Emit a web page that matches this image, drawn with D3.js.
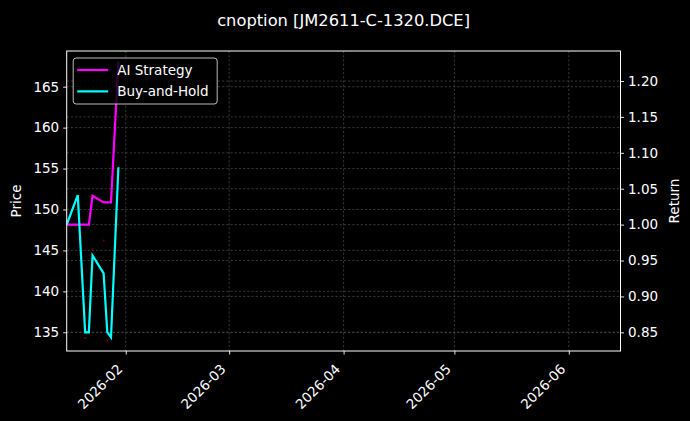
<!DOCTYPE html>
<html>
<head>
<meta charset="utf-8">
<script src="https://cdn.jsdelivr.net/npm/d3@7"></script>
<style>
  html, body { margin: 0; padding: 0; background: #000; }
  svg { display: block; font-family: "DejaVu Sans", sans-serif; }
</style>
</head>
<body>
<svg id="chart" width="690" height="421"></svg>
<script>
// Trading dates
const dates = ["2026-01-16", "2026-01-19", "2026-01-21", "2026-01-22", "2026-01-23",
               "2026-01-26", "2026-01-27", "2026-01-28", "2026-01-30"];
// Equity curves (right axis, return)
const aiStrategy = [1.00, 1.00, 1.00, 1.00, 1.04, 1.031, 1.031, 1.031, 1.227];
const buyHold    = [1.00, 1.041, 0.850, 0.850, 0.957, 0.932, 0.850, 0.843, 1.080];
// Faint trade markers (left axis, price)
const markerDates  = ["2026-01-21", "2026-01-23", "2026-01-26", "2026-01-27"];
const markerPrices = [134.3, 145.2, 146.2, 134.0];
// Axis ticks
const priceTicks  = [135, 140, 145, 150, 155, 160, 165];
const returnTicks = [0.85, 0.90, 0.95, 1.00, 1.05, 1.10, 1.15, 1.20];
const monthTicks  = ["2026-02-01", "2026-03-01", "2026-04-01", "2026-05-01", "2026-06-01"];

const parse = d3.timeParse("%Y-%m-%d");
const W = 690, H = 421;
const margin = { top: 51, right: 69.5, bottom: 70, left: 66.7 };
const iw = W - margin.left - margin.right;
const ih = H - margin.top - margin.bottom;

const svg = d3.select('#chart');
svg.append('rect').attr('width', W).attr('height', H).attr('fill', '#000');

const x = d3.scaleTime()
    .domain([parse("2026-01-16"), parse("2026-06-15")])
    .range([0, iw]);
const yPrice = d3.scaleLinear().domain([132.716, 169.36]).range([ih, 0]);
const yRet = d3.scaleLinear().domain([0.824, 1.2418]).range([ih, 0]);

const g = svg.append('g').attr('transform', `translate(${margin.left},${margin.top})`);

// Grid
const grid = g.append('g')
    .attr('stroke', '#5a5a5a')
    .attr('stroke-width', 0.6)
    .attr('stroke-dasharray', '2.2,2');
grid.selectAll('.vg').data(monthTicks).enter().append('line')
    .attr('x1', d => x(parse(d))).attr('x2', d => x(parse(d)))
    .attr('y1', 0).attr('y2', ih);
grid.selectAll('.hp').data(priceTicks).enter().append('line')
    .attr('x1', 0).attr('x2', iw)
    .attr('y1', d => yPrice(d)).attr('y2', d => yPrice(d));
grid.selectAll('.hr').data(returnTicks).enter().append('line')
    .attr('x1', 0).attr('x2', iw)
    .attr('y1', d => yRet(d)).attr('y2', d => yRet(d));

// Clip to plot area
svg.append('clipPath').attr('id', 'clip')
    .append('rect').attr('width', iw).attr('height', ih);
const plot = g.append('g').attr('clip-path', 'url(#clip)');

// Trade markers
plot.selectAll('.mk').data(markerDates).enter().append('circle')
    .attr('cx', d => x(parse(d)))
    .attr('cy', (d, i) => yPrice(markerPrices[i]))
    .attr('r', 1.1)
    .attr('fill', '#a00000')
    .attr('opacity', 0.7);

const series = [
    { name: "AI Strategy", values: aiStrategy, color: "#ff00ff" },
    { name: "Buy-and-Hold", values: buyHold, color: "#00ffff" }
];

const line = d3.line()
    .x(d => x(parse(d.date)))
    .y(d => yRet(d.value));

series.forEach(s => {
    plot.append('path')
        .datum(dates.map((d, i) => ({ date: d, value: s.values[i] })))
        .attr('fill', 'none')
        .attr('stroke', s.color)
        .attr('stroke-width', 2.2)
        .attr('stroke-linejoin', 'miter')
        .attr('d', line);
});

// Axes
const styleAxis = sel => {
    sel.select('.domain').remove();
    sel.selectAll('line').attr('stroke', '#fff').attr('stroke-width', 0.9);
    sel.selectAll('text').attr('fill', '#fff').style('font-size', '13.5px')
        .style('font-family', '"DejaVu Sans", sans-serif');
};

g.append('g')
    .call(d3.axisLeft(yPrice).tickValues(priceTicks).tickSize(3.5).tickPadding(4))
    .call(styleAxis);

g.append('g')
    .attr('transform', `translate(${iw},0)`)
    .call(d3.axisRight(yRet).tickValues(returnTicks).tickSize(3.5).tickPadding(4)
        .tickFormat(d3.format('.2f')))
    .call(styleAxis);

const xAxis = g.append('g')
    .attr('transform', `translate(0,${ih})`)
    .call(d3.axisBottom(x).tickValues(monthTicks.map(parse)).tickSize(3.5)
        .tickFormat(d3.timeFormat('%Y-%m')))
    .call(styleAxis);
xAxis.selectAll('text')
    .attr('text-anchor', 'end')
    .attr('dy', null)
    .attr('y', 0)
    .attr('transform', 'translate(-3,19) rotate(-45)');

// Spines
g.append('rect')
    .attr('width', iw).attr('height', ih)
    .attr('fill', 'none').attr('stroke', '#fff').attr('stroke-width', 1);

// Legend
const lg = g.append('g').attr('transform', 'translate(6.5,7)');
lg.append('rect')
    .attr('width', 144).attr('height', 46).attr('rx', 3)
    .attr('fill', '#000').attr('fill-opacity', 0.8)
    .attr('stroke', '#d0d0d0').attr('stroke-width', 0.9);
series.forEach((s, i) => {
    const yy = 12 + i * 21.4;
    lg.append('line')
        .attr('x1', 4).attr('x2', 35)
        .attr('y1', yy).attr('y2', yy)
        .attr('stroke', s.color).attr('stroke-width', 2.2);
    lg.append('text')
        .attr('x', 44).attr('y', yy + 5)
        .attr('fill', '#fff').style('font-size', '13.5px')
        .text(s.name);
});

// Title and axis labels
svg.append('text')
    .attr('x', margin.left + iw / 2).attr('y', 26)
    .attr('text-anchor', 'middle').attr('fill', '#fff')
    .style('font-size', '16.3px')
    .text('cnoption [JM2611-C-1320.DCE]');

svg.append('text')
    .attr('transform', `translate(21,${margin.top + ih / 2}) rotate(-90)`)
    .attr('text-anchor', 'middle').attr('fill', '#fff')
    .style('font-size', '13.5px')
    .text('Price');

svg.append('text')
    .attr('transform', `translate(679,${margin.top + ih / 2}) rotate(-90)`)
    .attr('text-anchor', 'middle').attr('fill', '#fff')
    .style('font-size', '13.5px')
    .text('Return');
</script>
</body>
</html>
